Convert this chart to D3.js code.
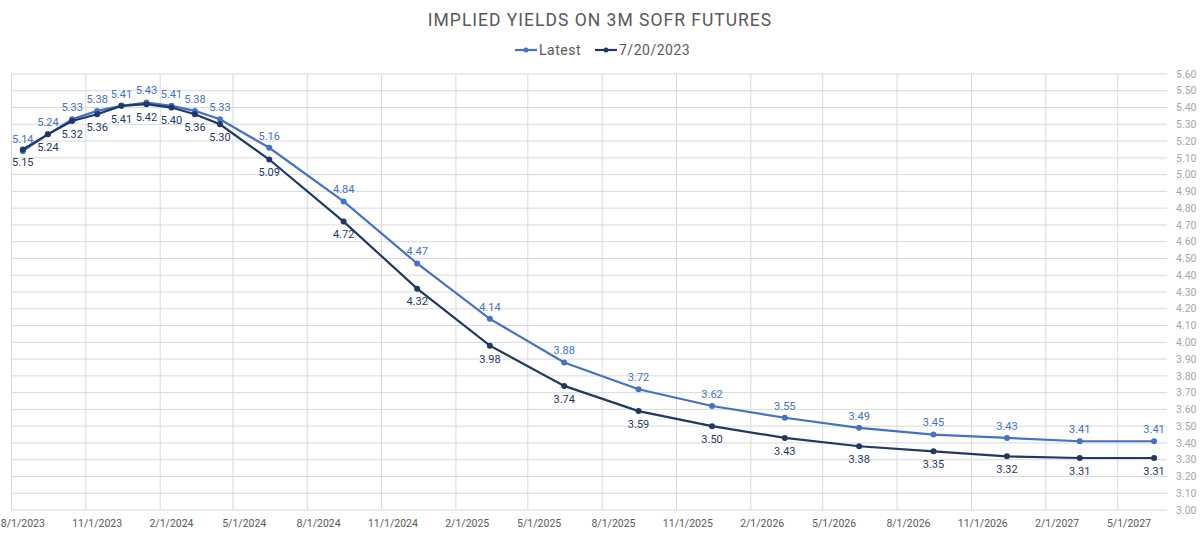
<!DOCTYPE html>
<html>
<head>
<meta charset="utf-8">
<script src="https://cdn.jsdelivr.net/npm/d3@7"></script>
<style>
  body { margin: 0; background: #fff; }
  text { font-family: Roboto, "DejaVu Sans", sans-serif; }
</style>
</head>
<body>
<svg width="1200" height="535"></svg>
<script>
// contract dates (monthly, then quarterly IMM)
var dates = ["2023-08-15", "2023-09-15", "2023-10-15", "2023-11-15", "2023-12-15",
  "2024-01-15", "2024-02-15", "2024-03-15", "2024-04-15", "2024-06-15",
  "2024-09-15", "2024-12-15", "2025-03-15", "2025-06-15", "2025-09-15",
  "2025-12-15", "2026-03-15", "2026-06-15", "2026-09-15", "2026-12-15",
  "2027-03-15", "2027-06-15"];

var latest = [5.14, 5.24, 5.33, 5.38, 5.41, 5.43, 5.41, 5.38, 5.33, 5.16,
  4.84, 4.47, 4.14, 3.88, 3.72, 3.62, 3.55, 3.49, 3.45, 3.43, 3.41, 3.41];

var prior = [5.15, 5.24, 5.32, 5.36, 5.41, 5.42, 5.40, 5.36, 5.30, 5.09,
  4.72, 4.32, 3.98, 3.74, 3.59, 3.50, 3.43, 3.38, 3.35, 3.32, 3.31, 3.31];

var xTicks = ["2023-08-01", "2023-11-01", "2024-02-01", "2024-05-01", "2024-08-01",
  "2024-11-01", "2025-02-01", "2025-05-01", "2025-08-01", "2025-11-01",
  "2026-02-01", "2026-05-01", "2026-08-01", "2026-11-01", "2027-02-01", "2027-05-01"];

var yTicks = d3.range(30, 57).map(function (d) { return d / 10; });

var series = [
  { name: "Latest", values: latest, color: "#4472c4", above: true },
  { name: "7/20/2023", values: prior, color: "#1f3864", above: false }
];

var parse = d3.utcParse("%Y-%m-%d");
var fmtTick = d3.utcFormat("%-m/%-d/%Y");

var svg = d3.select("svg");

var x = d3.scaleUtc()
    .domain([parse("2023-08-01"), parse("2027-07-01")])
    .range([11.5, 1167]);

var y = d3.scaleLinear()
    .domain([3.0, 5.6])
    .range([510, 74]);

// horizontal grid
svg.append("g").selectAll("line").data(yTicks).enter().append("line")
    .attr("x1", x.range()[0]).attr("x2", x.range()[1])
    .attr("y1", function (d) { return y(d); })
    .attr("y2", function (d) { return y(d); })
    .attr("stroke", "#d9d9d9").attr("stroke-width", 1);

// vertical grid
svg.append("g").selectAll("line").data(xTicks).enter().append("line")
    .attr("x1", function (d) { return x(parse(d)); })
    .attr("x2", function (d) { return x(parse(d)); })
    .attr("y1", y(5.6)).attr("y2", y(3.0))
    .attr("stroke", "#d9d9d9").attr("stroke-width", 1);

// right axis labels
svg.append("g").selectAll("text").data(yTicks).enter().append("text")
    .attr("x", 1176)
    .attr("y", function (d) { return y(d); })
    .attr("dy", "0.35em")
    .attr("font-size", 10.5)
    .attr("fill", "#a6a6a6")
    .text(function (d) { return d.toFixed(2); });

// bottom axis labels (centred half a month past the gridline)
svg.append("g").selectAll("text").data(xTicks).enter().append("text")
    .attr("x", function (d) { return x(d3.utcDay.offset(parse(d), 14)); })
    .attr("y", 527)
    .attr("text-anchor", "middle")
    .attr("font-size", 10.5)
    .attr("fill", "#595959")
    .text(function (d) { return fmtTick(parse(d)); });

var line = d3.line()
    .x(function (d) { return x(d.date); })
    .y(function (d) { return y(d.value); });

series.forEach(function (s) {
  var pts = dates.map(function (d, i) { return { date: parse(d), value: s.values[i] }; });
  var g = svg.append("g");

  g.append("path")
      .datum(pts)
      .attr("d", line)
      .attr("fill", "none")
      .attr("stroke", s.color)
      .attr("stroke-width", 2.2);

  g.selectAll("circle").data(pts).enter().append("circle")
      .attr("cx", function (d) { return x(d.date); })
      .attr("cy", function (d) { return y(d.value); })
      .attr("r", 3)
      .attr("fill", s.color);

  g.selectAll("text").data(pts).enter().append("text")
      .attr("x", function (d) { return x(d.date); })
      .attr("y", function (d) { return y(d.value) + (s.above ? -12 : 13); })
      .attr("dy", "0.35em")
      .attr("text-anchor", "middle")
      .attr("font-size", 11)
      .attr("fill", s.color)
      .text(function (d) { return d.value.toFixed(2); });
});

// title
svg.append("text")
    .attr("x", 600).attr("y", 26)
    .attr("text-anchor", "middle")
    .attr("font-size", 17.5)
    .attr("letter-spacing", 1)
    .attr("fill", "#595959")
    .text("IMPLIED YIELDS ON 3M SOFR FUTURES");

// legend
var legend = svg.append("g");
var lx = [515, 595];
series.forEach(function (s, i) {
  var lg = legend.append("g").attr("transform", "translate(" + lx[i] + ",50)");
  lg.append("line").attr("x1", 0).attr("x2", 22).attr("y1", 0).attr("y2", 0)
      .attr("stroke", s.color).attr("stroke-width", 2.2);
  lg.append("circle").attr("cx", 11).attr("cy", 0).attr("r", 2.5).attr("fill", s.color);
  lg.append("text").attr("x", 24).attr("y", 0).attr("dy", "0.35em")
      .attr("font-size", 14).attr("letter-spacing", 0.5)
      .attr("fill", "#595959").text(s.name);
});
</script>
</body>
</html>
